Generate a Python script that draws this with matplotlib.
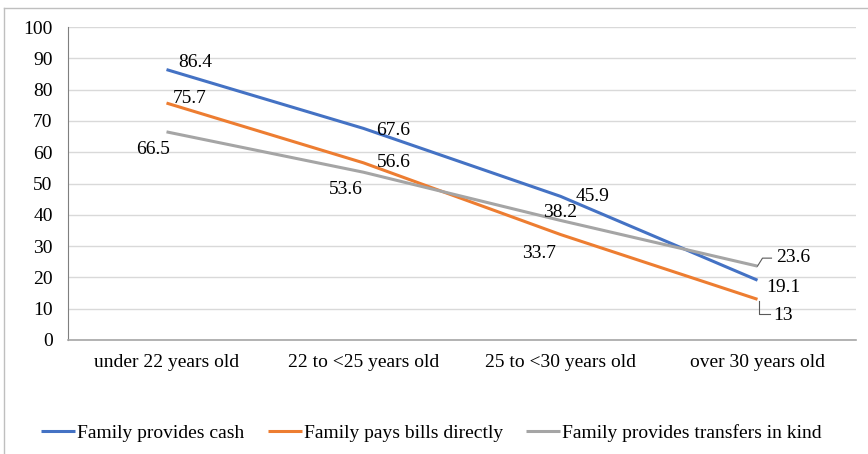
import matplotlib.pyplot as plt
from matplotlib.lines import Line2D
from matplotlib.transforms import IdentityTransform

plt.rcParams['font.family'] = ['Liberation Serif', 'DejaVu Serif']

categories = ["under 22 years old", "22 to <25 years old", "25 to <30 years old", "over 30 years old"]
cash = [86.4, 67.6, 45.9, 19.1]
bills = [75.7, 56.6, 33.7, 13]
in_kind = [66.5, 53.6, 38.2, 23.6]
series_names = ["Family provides cash", "Family pays bills directly", "Family provides transfers in kind"]

colors = ["#4472C4", "#ED7D31", "#A5A5A5"]

# label offsets in pixels (dx, dy), per series per point
offsets = [
    [(29, 7), (30, -2), (32, 0), (26, -7)],
    [(23, 5), (30, 0), (-21, -19), (26, -16)],
    [(-13, -18), (-18, -17), (0, 8), (36, 9)],
]
# leader lines (pixel offsets from the point), Excel style
leaders = {
    (1, 3): [(1, -2), (1, -15), (12, -15)],
    (2, 3): [(0, 0), (5, 8), (14, 8)],
}

fig = plt.figure(figsize=(8.68, 4.54), dpi=100)
ax = fig.add_axes([68 / 868, 1 - 340 / 454, (856 - 68) / 868, (340 - 27) / 454])

ax.set_xlim(-0.5, 3.5)
ax.set_ylim(0, 100)

x = list(range(len(categories)))
for i, (vals, name) in enumerate(zip([cash, bills, in_kind], series_names)):
    ax.plot(x, vals, color=colors[i], lw=2.2, label=name, solid_capstyle='butt', zorder=3)
    for j, v in enumerate(vals):
        dx, dy = offsets[i][j]
        ax.annotate(f"{v:g}", (j, v), xytext=(dx, dy), textcoords='offset pixels',
                    ha='center', va='center', fontsize=14, zorder=4)
        if (i, j) in leaders:
            px, py = ax.transData.transform((j, v))
            pts = leaders[(i, j)]
            fig.add_artist(Line2D([px + a for a, b in pts], [py + b for a, b in pts],
                                  transform=IdentityTransform(), color='#595959', lw=0.8))

ax.set_yticks(range(0, 101, 10))
ax.set_xticks(x)
ax.set_xticklabels(categories)
ax.tick_params(axis='both', length=0, labelsize=14, colors='black')
ax.tick_params(axis='x', pad=10)
ax.tick_params(axis='y', pad=11)
ax.grid(axis='y', color='#D9D9D9', lw=1)
ax.set_axisbelow(True)
for s in ['top', 'right']:
    ax.spines[s].set_visible(False)
ax.spines['left'].set_color('#7F7F7F')
ax.spines['bottom'].set_color('#A6A6A6')
ax.spines['bottom'].set_linewidth(1.2)

leg = fig.legend(loc='center', bbox_to_anchor=(0.497, 1 - 433 / 454), ncol=3, frameon=False,
                 fontsize=14, handlelength=1.75, handletextpad=0.1, columnspacing=1.2)

# chart border (top and left edges visible)
fig.add_artist(Line2D([4 / 868, 4 / 868], [0, 1 - 8 / 454], transform=fig.transFigure, color='#BFBFBF', lw=1))
fig.add_artist(Line2D([4 / 868, 1], [1 - 8 / 454, 1 - 8 / 454], transform=fig.transFigure, color='#BFBFBF', lw=1))

fig.savefig("out.png", dpi=100)
